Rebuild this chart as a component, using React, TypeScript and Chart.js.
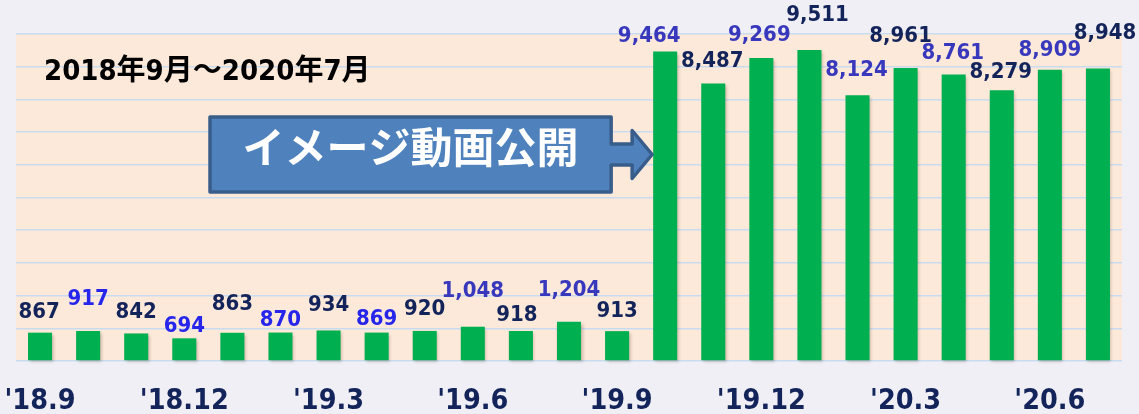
import React, { useEffect, useRef } from "react";
import { Chart, registerables } from "chart.js";

Chart.register(...registerables);

// ---- data ----
const months: string[] = [
  "'18.9", "'18.10", "'18.11", "'18.12", "'19.1", "'19.2", "'19.3", "'19.4",
  "'19.5", "'19.6", "'19.7", "'19.8", "'19.9", "'19.10", "'19.11", "'19.12",
  "'20.1", "'20.2", "'20.3", "'20.4", "'20.5", "'20.6", "'20.7",
];
const views: number[] = [
  867, 917, 842, 694, 863, 870, 934, 869, 920, 1048, 918, 1204, 913,
  9464, 8487, 9269, 9511, 8124, 8961, 8761, 8279, 8909, 8948,
];
const tickEvery = 3;
const periodTitle = "2018年9月～2020年7月";
const calloutText = "イメージ動画公開";
const calloutIndex = 13;
const yMax = 10000;
const yStep = 1000;

// ---- styles ----
const PAGE_BG = "#f0eff5";
const PLOT_BG = "#fde9d9";
const GRID = "#c9dbef";
const BAR = "#00b050";
const DARK = "#13245a";
const BLUE_BRIGHT = "#2525ec";
const BLUE_SOFT = "#3838bd";
const NUM_FAMILY = '"DejaVu Sans", "Noto Sans", sans-serif';
const CJK_FAMILY = '"DejaVu Sans", "Noto Sans CJK JP", sans-serif';
// value-label nudges (px): horizontal shift and lift above bar top
const labelShiftX: number[] = [-1, 0, 0, 0, 0, 0, 0, 0, 0, 0, -4, 0, 0, -16, -1, -2, 8, -1, -5, -1, -1, 0, 7];
const labelLift: number[] = [15, 26, 15, 6, 23, 7, 19, 8, 16, 30, 10, 26, 14, 10, 16, 17, 29, 19, 26, 16, 12, 14, 29];

const labelColor = (i: number) =>
  i % 2 === 0 ? DARK : views[i] < 1000 ? BLUE_BRIGHT : BLUE_SOFT;

const decor = {
  id: "decor",
  beforeDraw(chart: any) {
    const { ctx, chartArea: a } = chart;
    ctx.save();
    ctx.fillStyle = PLOT_BG;
    ctx.fillRect(a.left, a.top, a.right - a.left, a.bottom - a.top);
    ctx.restore();
  },
  beforeDatasetsDraw(chart: any) {
    const { ctx } = chart;
    ctx.save();
    ctx.shadowColor = "rgba(60,30,20,0.28)";
    ctx.shadowOffsetX = 1.5;
    ctx.shadowOffsetY = 2;
    ctx.shadowBlur = 3;
  },
  afterDatasetsDraw(chart: any) {
    const { ctx } = chart;
    ctx.restore();
    const meta = chart.getDatasetMeta(0);
    ctx.save();
    ctx.font = `bold condensed 22px ${NUM_FAMILY}`;
    ctx.textAlign = "center";
    ctx.textBaseline = "alphabetic";
    meta.data.forEach((bar: any, i: number) => {
      ctx.fillStyle = labelColor(i);
      ctx.fillText(
        views[i].toLocaleString("en-US"),
        bar.x + (labelShiftX[i] || 0),
        bar.y - (labelLift[i] ?? 14)
      );
    });
    ctx.restore();
  },
  afterDraw(chart: any) {
    const { ctx, chartArea: a } = chart;
    ctx.save();
    // period title
    ctx.font = `bold condensed 29px ${CJK_FAMILY}`;
    ctx.fillStyle = "#000000";
    ctx.textAlign = "left";
    ctx.textBaseline = "alphabetic";
    ctx.fillText(periodTitle, a.left + 28, a.top + 46);

    // callout arrow box
    const bar = chart.getDatasetMeta(0).data[calloutIndex];
    const tip = bar.x - bar.width / 2 - 1;
    const L = a.left + 194;
    const R = tip - 41;
    const T = a.top + 83;
    const B = a.top + 158;
    const mid = (T + B) / 2;
    const sh = 10.5;
    const hd = 24;
    const neck = R + 21;
    ctx.beginPath();
    ctx.moveTo(L, T);
    ctx.lineTo(R, T);
    ctx.lineTo(R, mid - sh);
    ctx.lineTo(neck, mid - sh);
    ctx.lineTo(neck, mid - hd);
    ctx.lineTo(tip, mid);
    ctx.lineTo(neck, mid + hd);
    ctx.lineTo(neck, mid + sh);
    ctx.lineTo(R, mid + sh);
    ctx.lineTo(R, B);
    ctx.lineTo(L, B);
    ctx.closePath();
    ctx.fillStyle = "#4f81bd";
    ctx.fill();
    ctx.lineWidth = 3.5;
    ctx.lineJoin = "round";
    ctx.strokeStyle = "#385d8a";
    ctx.stroke();

    ctx.font = `bold 42px "Noto Sans CJK JP", sans-serif`;
    ctx.fillStyle = "#ffffff";
    ctx.textAlign = "center";
    ctx.textBaseline = "middle";
    ctx.fillText(calloutText, (L + R) / 2, mid - 7);
    ctx.restore();
  },
};

export default function App() {
  const ref = useRef<HTMLCanvasElement | null>(null);
  useEffect(() => {
    if (!ref.current) return;
    const chart = new Chart(ref.current, {
      type: "bar",
      data: {
        labels: months,
        datasets: [
          {
            data: views,
            backgroundColor: BAR,
            borderWidth: 0,
            barPercentage: 0.5,
            categoryPercentage: 1,
            clip: false as any,
          },
        ],
      },
      options: {
        responsive: false,
        animation: false,
        layout: { padding: { left: 16, right: 17, top: 34, bottom: 0 } },
        plugins: { legend: { display: false }, tooltip: { enabled: false } },
        scales: {
          x: {
            grid: { display: false },
            border: { display: false },
            ticks: {
              autoSkip: false,
              maxRotation: 0,
              minRotation: 0,
              padding: 15,
              color: DARK,
              font: { family: NUM_FAMILY, size: 28.5, weight: "bold condensed" as any },
              callback: (_v: any, i: number) => (i % tickEvery === 0 ? months[i] : ""),
            },
            afterFit: (s: any) => {
              s.height = 53;
              s.paddingLeft = 0;
              s.paddingRight = 0;
            },
          },
          y: {
            min: 0,
            max: yMax,
            ticks: { display: false, stepSize: yStep },
            grid: { color: GRID, lineWidth: 1.5, drawTicks: false },
            border: { display: false },
            afterFit: (s: any) => {
              s.width = 0;
              s.paddingTop = 0;
              s.paddingBottom = 0;
            },
          },
        },
      },
      plugins: [decor],
    });
    return () => chart.destroy();
  }, []);
  return (
    <div style={{ position: "fixed", left: 0, top: 0, width: 1139, height: 414, background: PAGE_BG }}>
      <canvas ref={ref} width={1139} height={414} style={{ display: "block" }} />
    </div>
  );
}
